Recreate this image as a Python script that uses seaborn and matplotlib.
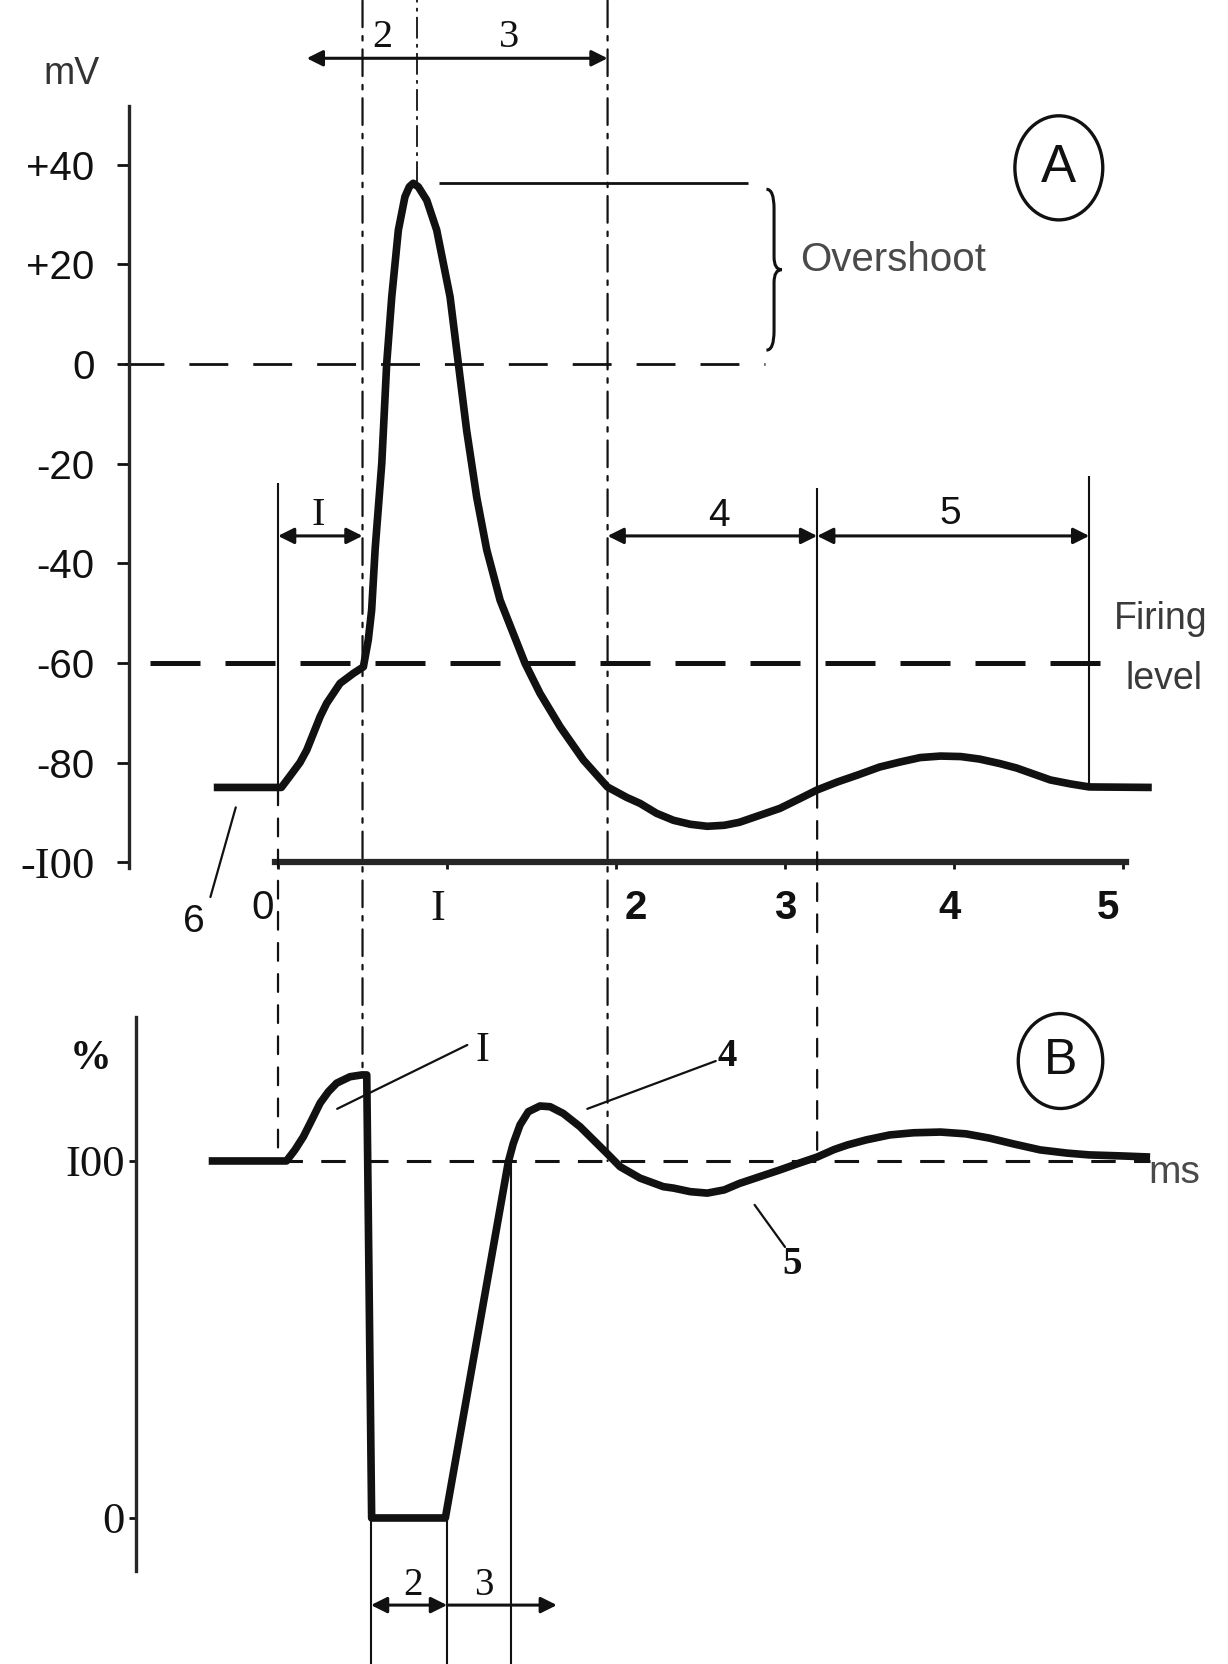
# -*- coding: utf-8 -*-
"""
动作电位示意图：A 膜电位，B 兴奋性
"""
import pandas as pd
import matplotlib
matplotlib.use("Agg")
import matplotlib.pyplot as plt
import matplotlib.transforms as mtransforms
from matplotlib.patches import Ellipse, PathPatch, ConnectionPatch
from matplotlib.path import Path
import seaborn as sns

# ---- A: membrane potential (mV) vs time (ms) ----
mem_time = [-0.38, 0.02, 0.071, 0.13, 0.17, 0.209, 0.249, 0.288, 0.367, 0.446, 0.505,
            0.534, 0.554, 0.575, 0.614, 0.643, 0.673, 0.712, 0.751, 0.777, 0.80,
            0.83, 0.88, 0.939, 1.018, 1.067, 1.116, 1.176, 1.235, 1.314, 1.392,
            1.462, 1.55, 1.669, 1.807, 1.949, 2.063, 2.142, 2.24, 2.34, 2.44, 2.54,
            2.64, 2.73, 2.85, 2.97, 3.09, 3.19, 3.31, 3.43, 3.56, 3.68, 3.80, 3.92,
            4.04, 4.15, 4.27, 4.37, 4.47, 4.57, 4.69, 4.80, 5.17]
mem_mv = [-85, -85, -82.7, -80, -77.5, -74.2, -70.8, -68.1, -64.1, -62.1, -60.8,
          -55.4, -49.4, -37, -19.9, 0.1, 13.5, 26.9, 33.6, 35.6, 36.3,
          35.6, 32.9, 26.9, 13.5, 0.1, -13.3, -26.8, -37.3, -47.4, -54.1,
          -60.1, -66.1, -72.8, -79.5, -84.9, -87, -88.2, -90.2, -91.6, -92.4, -92.8,
          -92.6, -92, -90.6, -89.2, -87.2, -85.5, -83.9, -82.5, -80.9, -79.9, -79.0, -78.7,
          -78.8, -79.3, -80.2, -81.1, -82.3, -83.5, -84.3, -84.9, -85]

# ---- B: excitability (%) vs time (ms) ----
rel_time = [-0.41, 0.05, 0.10, 0.15, 0.20, 0.249, 0.298, 0.347, 0.426, 0.495, 0.525,
            0.554, 0.99, 1.363, 1.392, 1.432, 1.481, 1.55, 1.61, 1.688, 1.787, 1.866,
            1.945, 2.024, 2.142, 2.28, 2.34, 2.44, 2.54, 2.64, 2.73, 2.85, 2.97,
            3.09, 3.19, 3.29, 3.37, 3.48, 3.62, 3.76, 3.92, 4.07, 4.21, 4.35, 4.51,
            4.67, 4.80, 5.0, 5.16]
rel_pct = [100, 100, 103.1, 106.8, 111.5, 116.2, 119.4, 121.8, 123.6, 124.1, 124.1,
           0, 0, 99.8, 104.9, 110.1, 113.8, 115.4, 115.2, 113.3, 109.6, 105.9,
           102.2, 98.4, 95.2, 92.8, 92.4, 91.4, 91.0, 91.9, 93.7, 95.6, 97.5,
           99.5, 101.1, 103.2, 104.5, 105.9, 107.3, 107.9, 108.1, 107.6, 106.4, 104.8, 103.1,
           102.2, 101.7, 101.4, 101.1]

# axis ticks
ms_ticks = [0, 1, 2, 3, 4, 5]
ms_labels = ['0', 'I', '2', '3', '4', '5']
mv_ticks = [40, 20, 0, -20, -40, -60, -80, -100]
mv_labels = ['+40', '+20', '0', '-20', '-40', '-60', '-80', '-I00']
pct_ticks = [0, 100]
pct_labels = ['0', 'I00']

# phase boundaries (ms) and reference levels
t_start, t_fire, t_peak, t_3end, t_4end, t_5end = 0.0, 0.50, 0.82, 1.95, 3.19, 4.80
t_abs_end, t_rel_end = 1.0, 1.38
peak_mv = 36.3
rest_mv = -85
firing_mv = -60

INK = '#111111'
SERIF = ['Liberation Serif', 'DejaVu Serif']

sns.set_theme(style="ticks")
plt.rcParams['font.family'] = ['Liberation Sans', 'DejaVu Sans']


def dim_arrow(ax, x0, x1, y, style='<|-|>'):
    ax.annotate('', xy=(x1, y), xytext=(x0, y),
                arrowprops=dict(arrowstyle=style, color=INK, lw=2.2,
                                mutation_scale=24, shrinkA=0, shrinkB=0))


def brace(ax, x, y_top, y_bot, w):
    h = y_top - y_bot
    ym = (y_top + y_bot) / 2
    verts = [(x, y_top), (x + w, y_top), (x + w, y_top - 0.12 * h),
             (x + w, ym + 0.08 * h),
             (x + w, ym), (x + 2 * w, ym),
             (x + w, ym), (x + w, ym - 0.08 * h),
             (x + w, y_bot + 0.12 * h),
             (x + w, y_bot), (x, y_bot)]
    codes = [Path.MOVETO, Path.CURVE3, Path.CURVE3, Path.LINETO,
             Path.CURVE3, Path.CURVE3, Path.CURVE3, Path.CURVE3,
             Path.LINETO, Path.CURVE3, Path.CURVE3]
    ax.add_patch(PathPatch(Path(verts, codes), fill=False, ec=INK, lw=2.2))


fig = plt.figure(figsize=(12.28, 16.64), dpi=100)
axA = fig.add_axes([0, 1 - 900 / 1664, 1, 900 / 1664])
axB = fig.add_axes([0, 0, 1, 764 / 1664], sharex=axA)
for ax in (axA, axB):
    ax.patch.set_visible(False)
    ax.spines['top'].set_visible(False)
    ax.spines['right'].set_visible(False)
axA.set_xlim(-1.645, 5.621)
axA.set_ylim(-107.6, 73.1)
axB.set_ylim(-40.9, 173.1)

# ---------------- panel A ----------------
dfA = pd.DataFrame({'ms': mem_time, 'mV': mem_mv})
sns.lineplot(data=dfA, x='ms', y='mV', sort=False, estimator=None,
             color=INK, lw=5.5, ax=axA, solid_joinstyle='round', solid_capstyle='butt')

axA.hlines(0, -0.905, 2.88, colors=INK, lw=2, linestyles=(0, (14, 9)))
axA.hlines(firing_mv, -0.76, 4.89, colors=INK, lw=3.6, linestyles=(0, (10, 5)))
axA.hlines(peak_mv, 0.95, 2.78, colors=INK, lw=2)

# guide lines above the curve
axA.vlines(t_peak, peak_mv, 73, colors=INK, lw=1.3, linestyles=(0, (12, 3, 2, 3)))
axA.vlines([t_start, t_4end], [-23.9, -24.9], rest_mv, colors=INK, lw=1.5)
axA.vlines(t_5end, -22.4, rest_mv, colors=INK, lw=1.5)

# guide lines running down into panel B
for t, ya, yb, dash in [(t_start, rest_mv, 100, (0, (8, 6))),
                        (t_fire, 73, 124, (0, (12, 4, 2, 4))),
                        (t_3end, 73, 100, (0, (12, 4, 2, 4))),
                        (t_4end, -85.5, 100, (0, (8, 6)))]:
    fig.add_artist(ConnectionPatch(xyA=(t, ya), coordsA=axA.transData,
                                   xyB=(t, yb), coordsB=axB.transData,
                                   color=INK, lw=1.6, linestyle=dash))

# phase brackets
dim_arrow(axA, 0.17, 1.95, 61.4)
dim_arrow(axA, t_start, t_fire, -34.5)
dim_arrow(axA, t_3end, t_4end, -34.5)
dim_arrow(axA, t_4end, t_5end, -34.5)
axA.text(0.62, 65.5, '2', ha='center', va='center', fontsize=29, family=SERIF, color=INK)
axA.text(1.37, 65.5, '3', ha='center', va='center', fontsize=29, family=SERIF, color=INK)
axA.text(0.24, -30.5, 'I', ha='center', va='center', fontsize=29, family=SERIF, color=INK)
axA.text(2.61, -30.5, '4', ha='center', va='center', fontsize=28, color=INK)
axA.text(3.98, -30.0, '5', ha='center', va='center', fontsize=28, color=INK)

brace(axA, 2.89, 35.1, 2.8, 0.045)
axA.text(3.09, 20.9, 'Overshoot', ha='left', va='center', fontsize=29, color='#4a4a4a')
axA.text(5.22, -51.2, 'Firing', ha='center', va='center', fontsize=27, color='#3a3a3a')
axA.text(5.24, -63.3, 'level', ha='center', va='center', fontsize=27, color='#3a3a3a')
axA.text(-1.22, 58.2, 'mV', ha='center', va='center', fontsize=27, color='#333333')

axA.add_patch(Ellipse((4.62, 39.4), 0.52, 20.9, fill=False, ec=INK, lw=2.4))
axA.text(4.62, 39.4, 'A', ha='center', va='center', fontsize=38, color=INK)

axA.plot([-0.40, -0.25], [-107, -89], color=INK, lw=1.6)
axA.text(-0.50, -112, '6', ha='center', va='center', fontsize=28, color=INK)

# axes of panel A
axA.spines['left'].set_position(('data', -0.88))
axA.spines['left'].set_bounds(-101.2, 51.8)
axA.spines['left'].set_linewidth(2.4)
axA.spines['bottom'].set_position(('data', -100))
axA.spines['bottom'].set_bounds(-0.02, 5.02)
axA.spines['bottom'].set_linewidth(4.5)
axA.set_yticks(mv_ticks)
axA.set_yticklabels(mv_labels)
axA.set_xticks(ms_ticks)
axA.set_xticklabels(ms_labels)
axA.tick_params(axis='y', direction='out', length=9, width=2, pad=16,
                labelsize=29, colors=INK)
axA.tick_params(axis='x', direction='out', length=5, width=2, pad=14,
                labelsize=29, colors=INK)
for lab in axA.get_yticklabels():
    if 'I' in lab.get_text():
        lab.set_fontfamily(SERIF)
        lab.set_fontsize(32)
# the hand-set labels sit a little off their ticks
x_shift = {'0': -15, 'I': -9, '2': 20, '3': 0, '4': -4, '5': -15}
for lab in axA.get_xticklabels():
    txt = lab.get_text()
    if txt == 'I':
        lab.set_fontfamily(SERIF)
        lab.set_fontsize(32)
    elif txt != '0':
        lab.set_fontweight('bold')
    off = mtransforms.ScaledTranslation(x_shift[txt] / 100, 0, fig.dpi_scale_trans)
    lab.set_transform(lab.get_transform() + off)
axA.set_xlabel('')
axA.set_ylabel('')

# ---------------- panel B ----------------
dfB = pd.DataFrame({'ms': rel_time, 'pct': rel_pct})
sns.lineplot(data=dfB, x='ms', y='pct', sort=False, estimator=None,
             color=INK, lw=5.5, ax=axB, solid_joinstyle='round', solid_capstyle='butt')
axB.hlines(100, 0.0, 5.16, colors=INK, lw=2.2, linestyles=(0, (8, 6)))

axB.vlines([0.55, t_abs_end], 0, -40.9, colors=INK, lw=1.5)
axB.vlines(t_rel_end, 100, -40.9, colors=INK, lw=1.5)
dim_arrow(axB, 0.55, t_abs_end, -24.4)
dim_arrow(axB, t_abs_end, 1.65, -24.4, style='-|>')
axB.text(0.80, -19.0, '2', ha='center', va='center', fontsize=28, family=SERIF, color=INK)
axB.text(1.22, -19.0, '3', ha='center', va='center', fontsize=28, family=SERIF, color=INK)

# leader labels
axB.plot([0.35, 1.12], [114.6, 132.5], color=INK, lw=1.6)
axB.text(1.21, 130.8, 'I', ha='center', va='center', fontsize=30, family=SERIF, color=INK)
axB.plot([1.83, 2.59], [114.6, 128], color=INK, lw=1.6)
axB.text(2.66, 129.4, '4', ha='center', va='center', fontsize=28,
         fontweight='bold', family=SERIF, color=INK)
axB.plot([2.82, 3.0], [87.7, 75.9], color=INK, lw=1.6)
axB.text(3.04, 70.9, '5', ha='center', va='center', fontsize=28,
         fontweight='bold', family=SERIF, color=INK)

axB.add_patch(Ellipse((4.63, 128), 0.50, 26.6, fill=False, ec=INK, lw=2.4))
axB.text(4.63, 128, 'B', ha='center', va='center', fontsize=36, color=INK)
axB.text(5.15, 96.6, 'ms', ha='left', va='center', fontsize=28, color='#4a4a4a')
axB.text(-1.11, 128.6, '%', ha='center', va='center', fontsize=30,
         fontweight='bold', family=SERIF, color=INK)

axB.spines['left'].set_position(('data', -0.84))
axB.spines['left'].set_bounds(-14.8, 140.3)
axB.spines['left'].set_linewidth(2.4)
axB.spines['bottom'].set_visible(False)
axB.set_yticks(pct_ticks)
axB.set_yticklabels(pct_labels)
axB.tick_params(axis='y', direction='out', length=5, width=2, pad=3,
                labelsize=32, colors=INK)
axB.tick_params(axis='x', bottom=False, labelbottom=False)
for lab in axB.get_yticklabels():
    lab.set_fontfamily(SERIF)
axB.set_xlabel('')
axB.set_ylabel('')

fig.savefig('out.png', dpi=100, facecolor='white')
